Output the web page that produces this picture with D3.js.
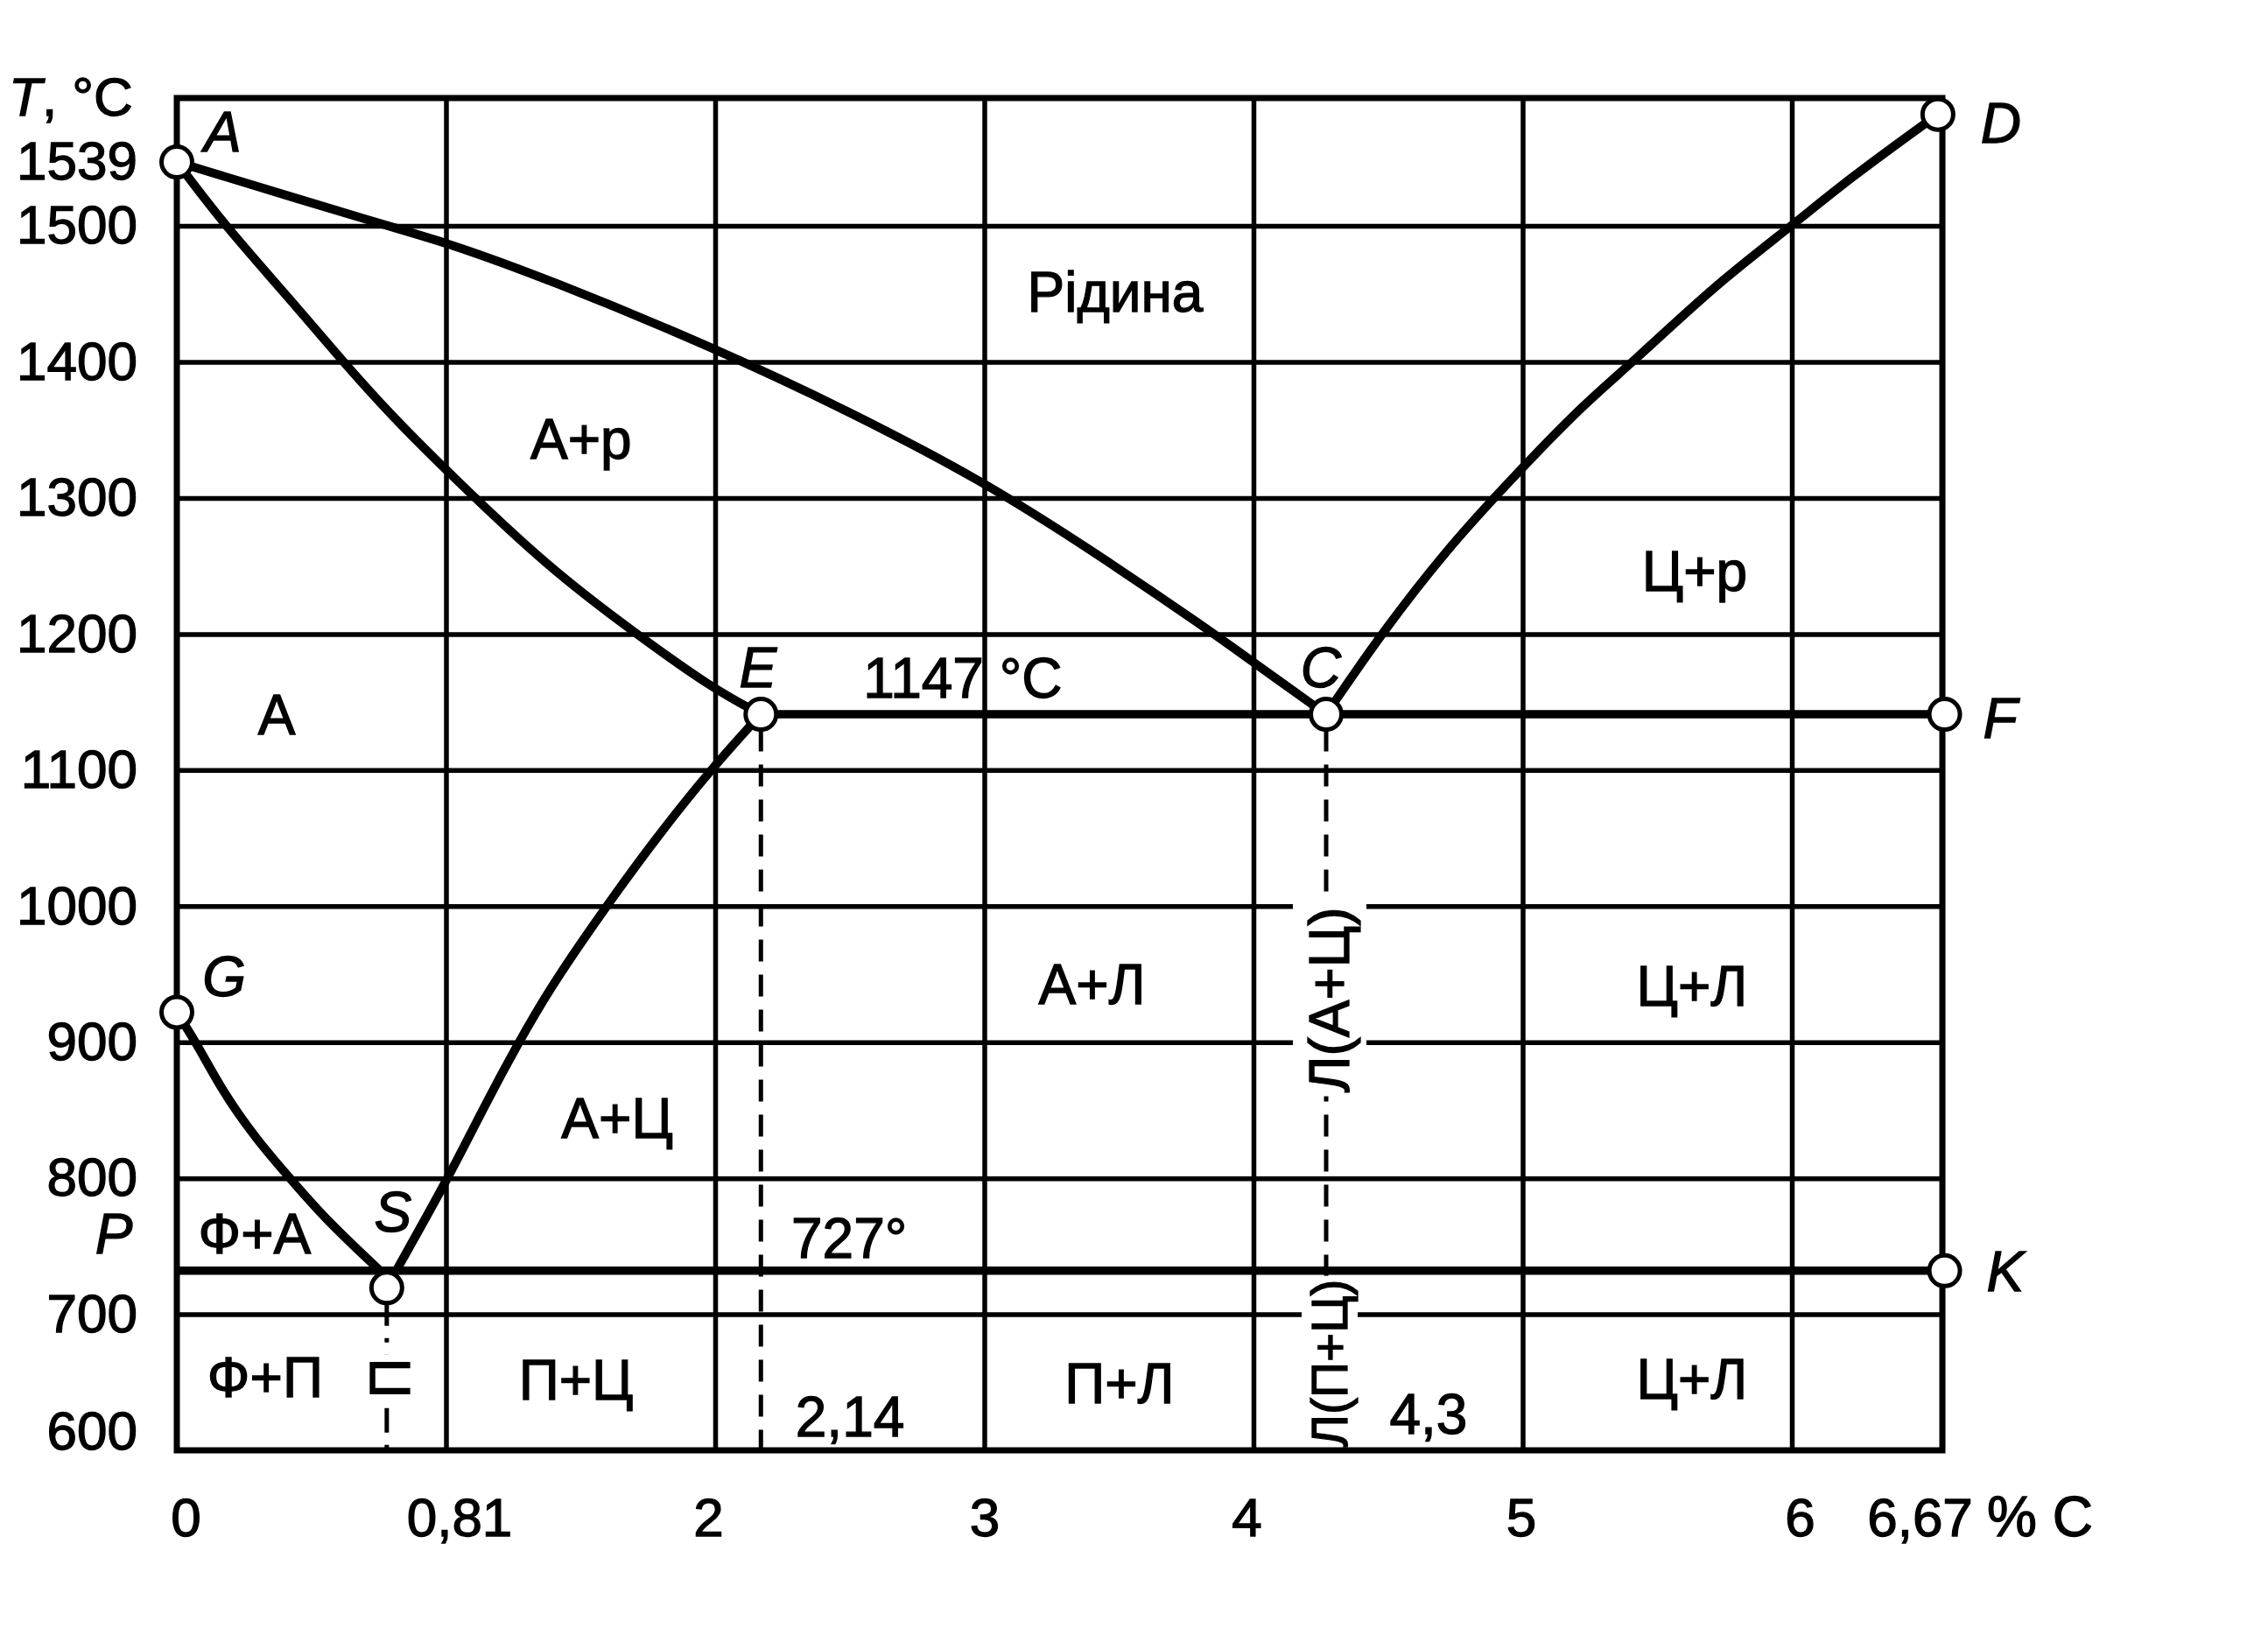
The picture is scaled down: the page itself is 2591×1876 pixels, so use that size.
<!DOCTYPE html>
<html><head><meta charset="utf-8">
<script src="https://cdn.jsdelivr.net/npm/d3@7"></script>
<style>
html,body{margin:0;padding:0;background:#fff;}
svg{display:block;}
text{font-family:'Liberation Sans',Arial,Helvetica,sans-serif;fill:#000;stroke:#000;stroke-width:1.3px;}
</style></head><body>
<svg id="chart" width="2591" height="1876"></svg>
<script>
// ===== DATA (carbon %, temperature °C) =====
const xGridValues = [1, 2, 3, 4, 5, 6];
const yGridValues = [700, 800, 900, 1000, 1100, 1200, 1300, 1400, 1500];
const xTickValues = [0, 1, 2, 3, 4, 5, 6, 6.67];
const xTickLabels = ["0", "0,81", "2", "3", "4", "5", "6", "6,67"];
const yTickValues = [1547, 1500, 1400, 1300, 1200, 1100, 1000, 900, 800, 700, 600];
const yTickLabels = ["1539", "1500", "1400", "1300", "1200", "1100", "1000", "900", "800", "700", "600"];

const liquidusAC = [[0,1547],[0.78,1500],[1.0,1488],[1.379,1461],[1.99,1411],[2.485,1365],[2.992,1313],[3.411,1260],[3.834,1203],[3.98,1182],[4.27,1141]];
const solidusAE  = [[0,1547],[0.179,1500],[0.426,1445],[0.618,1400],[0.80,1360],[1.018,1317],[1.379,1249],[1.70,1201],[1.99,1160],[2.17,1141]];
const lineES     = [[2.17,1141],[1.986,1101],[1.776,1049],[1.574,994],[1.387,940],[1.262,897],[1.153,857],[1.011,801],[0.815,732]];
const lineGS     = [[0,922],[0.08,897],[0.172,863],[0.298,828],[0.407,803],[0.546,771],[0.755,732]];
const liquidusCD = [[4.27,1141],[4.481,1202],[4.722,1263],[4.93,1308],[5.22,1368],[5.40,1398],[5.717,1457],[6.0,1500],[6.257,1535],[6.65,1582]];
const eutecticECF  = [[2.17,1141],[6.68,1141]];
const eutectoidPSK = [[0,732],[6.68,732]];

const pointNames = ["A","G","S","E","C","F","K","D"];
const pointX     = [0, 0, 0.78, 2.17, 4.27, 6.68, 6.68, 6.65];
const pointT     = [1547, 922, 732, 1141, 1141, 1141, 732, 1582];

const pointLabelText = ["A","D","E","C","F","K","G","S","P"];
const pointLabelX    = [0.17, 6.93, 2.159, 4.25, 6.927, 6.95, 0.176, 0.803, -0.234];
const pointLabelT    = [1555, 1561, 1161, 1161, 1124, 717, 934, 761, 745];

const regionText = ["Рідина","А+р","Ц+р","А","А+Л","Ц+Л","А+Ц","Ф+А","Ф+П","П+Ц","П+Л","Ц+Л","1147 °C","727°","2,14","4,3"];
const regionX    = [3.486, 1.502, 5.639, 0.371, 3.40, 5.629, 1.636, 0.289, 0.328, 1.483, 3.502, 5.629, 2.92, 2.498, 2.501, 4.65];
const regionT    = [1437, 1329, 1232, 1126, 928, 927, 830, 745, 639, 637, 635, 638, 1153, 741.5, 610, 612];

const verticalText = ["Л(А+Ц)", "Л(П+Ц)", "П"];
const verticalX    = [4.27, 4.27, 0.78];
const verticalT    = [931, 664, 653];

// ===== LAYOUT / STYLE =====
const svg = d3.select("#chart");
svg.append("rect").attr("width",2591).attr("height",1876).attr("fill","#fff");

const x = d3.scaleLinear().domain([0, 6, 6.67]).range([202, 2047, 2219]);
const y = d3.scaleLinear().domain([600, 1594]).range([1657, 112]);
const FS = 64, TICKFS = 62;
const R = 17.5;

// grid lines
const gx = svg.append("g").attr("transform", `translate(0,${y(600)})`)
  .call(d3.axisBottom(x).tickValues(xGridValues).tickSize(-(y(600) - y(1594))).tickFormat(""));
gx.select(".domain").remove();
gx.selectAll("line").attr("stroke", "#000").attr("stroke-width", 5.5);

const gy = svg.append("g").attr("transform", `translate(${x(0)},0)`)
  .call(d3.axisLeft(y).tickValues(yGridValues).tickSize(-(x(6.67) - x(0))).tickFormat(""));
gy.select(".domain").remove();
gy.selectAll("line").attr("stroke", "#000").attr("stroke-width", 5.5);

// tick labels
const xAxisG = svg.append("g").attr("transform", `translate(0,${y(600)})`)
  .call(d3.axisBottom(x).tickValues(xTickValues).tickFormat((d, i) => xTickLabels[i]).tickSize(0).tickPadding(54));
xAxisG.select(".domain").remove();
xAxisG.attr("font-family", null).attr("font-size", null);
const xTickDx = [10, 15, -8, 0, -8, -2, 9, -26];
xAxisG.selectAll("text").style("font-size", TICKFS + "px").attr("dx", (d, i) => xTickDx[i]);

const yAxisG = svg.append("g").attr("transform", `translate(${x(0)},0)`)
  .call(d3.axisLeft(y).tickValues(yTickValues).tickFormat((d, i) => yTickLabels[i]).tickSize(0).tickPadding(45));
yAxisG.select(".domain").remove();
yAxisG.attr("font-family", null).attr("font-size", null);
yAxisG.selectAll("text").style("font-size", TICKFS + "px")
  .attr("dy", d => d === 600 ? "-0.02em" : "0.32em");

// axis titles
const tTitle = svg.append("text").attr("x", 10).attr("y", 132).style("font-size", TICKFS + "px");
tTitle.append("tspan").attr("font-style", "italic").text("T");
tTitle.append("tspan").text(", °C");
svg.append("text").attr("x", 2270).attr("y", 1755).style("font-size", FS + "px").text("% C");

// dashed verticals
const iE = pointNames.indexOf("E"), iC = pointNames.indexOf("C"), iS = pointNames.indexOf("S");
svg.append("line").attr("x1", x(pointX[iE])).attr("x2", x(pointX[iE]))
  .attr("y1", y(pointT[iE]) + R).attr("y2", y(600))
  .attr("stroke", "#000").attr("stroke-width", 5).attr("stroke-dasharray", "25,15");
svg.append("line").attr("x1", x(pointX[iC])).attr("x2", x(pointX[iC]))
  .attr("y1", y(pointT[iC]) + R).attr("y2", y(600))
  .attr("stroke", "#000").attr("stroke-width", 5).attr("stroke-dasharray", "25,15");
svg.append("line").attr("x1", x(pointX[iS])).attr("x2", x(pointX[iS]))
  .attr("y1", y(pointT[iS]) + 2 * R).attr("y2", y(600))
  .attr("stroke", "#000").attr("stroke-width", 5).attr("stroke-dasharray", "28,14,5,14");

// vertical labels with white background
const verticalSize = [64, 57, 64];
const verticalPadW = [10, 4, 6];
verticalText.forEach((txt, i) => {
  const g = svg.append("g").attr("transform", `translate(${x(verticalX[i]) + 4},${y(verticalT[i])}) rotate(-90)`);
  const bg = g.append("rect").attr("fill", "#fff");
  const t = g.append("text").attr("text-anchor", "middle").attr("dominant-baseline", "central")
    .style("font-size", verticalSize[i] + "px").text(txt);
  const b = t.node().getBBox();
  bg.attr("x", b.x - 4).attr("y", b.y + 4 - verticalPadW[i]).attr("width", b.width + 8).attr("height", b.height - 8 + 2 * verticalPadW[i]);
});

// frame (drawn above label backgrounds)
svg.append("rect")
  .attr("x", x(0)).attr("y", y(1594))
  .attr("width", x(6.67) - x(0)).attr("height", y(600) - y(1594))
  .attr("fill", "none").attr("stroke", "#000").attr("stroke-width", 7);

// phase lines
const line = d3.line().x(d => x(d[0])).y(d => y(d[1])).curve(d3.curveBasis);
const straight = d3.line().x(d => x(d[0])).y(d => y(d[1]));
[liquidusAC, solidusAE, lineES, lineGS, liquidusCD].forEach(c => {
  svg.append("path").attr("d", line(c)).attr("fill", "none").attr("stroke", "#000")
    .attr("stroke-width", 10).attr("stroke-linecap", "round").attr("stroke-linejoin", "round");
});
[eutecticECF, eutectoidPSK].forEach(c => {
  svg.append("path").attr("d", straight(c)).attr("fill", "none").attr("stroke", "#000").attr("stroke-width", 9.5);
});

// region labels
regionText.forEach((txt, i) => {
  svg.append("text").attr("x", x(regionX[i])).attr("y", y(regionT[i]))
    .attr("text-anchor", "middle").style("font-size", FS + "px").text(txt);
});

// point labels
pointLabelText.forEach((txt, i) => {
  svg.append("text").attr("x", x(pointLabelX[i])).attr("y", y(pointLabelT[i]))
    .attr("text-anchor", "middle").attr("font-style", "italic").style("font-size", FS + "px").text(txt);
});

// points (open circles)
pointNames.forEach((n, i) => {
  svg.append("circle").attr("cx", x(pointX[i]))
    .attr("cy", y(pointT[i]) + (n === "S" ? R + 2 : 0))
    .attr("r", R).attr("fill", "#fff").attr("stroke", "#000").attr("stroke-width", 5);
});
</script>
</body></html>
